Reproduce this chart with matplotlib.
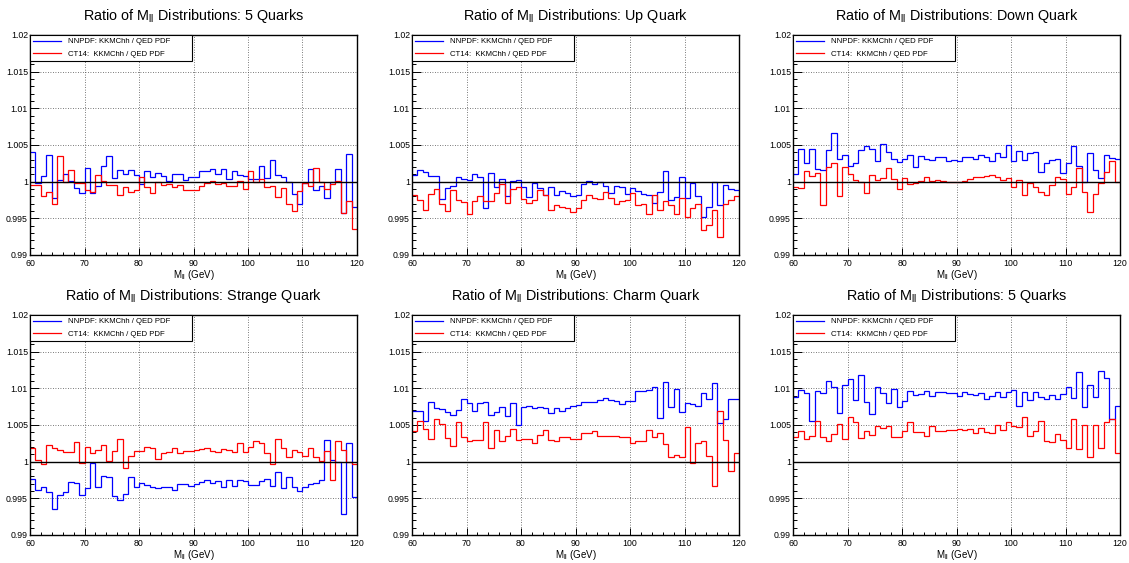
import numpy as np
import matplotlib
matplotlib.use("Agg")
from matplotlib import pyplot as plt
from matplotlib.ticker import MultipleLocator, FuncFormatter

plt.rcParams['font.family'] = ['Liberation Sans', 'DejaVu Sans']
plt.rcParams['mathtext.fontset'] = 'custom'
plt.rcParams['mathtext.rm'] = 'Liberation Sans'

# 1 GeV bins from 60 to 120 GeV
mass_edges = np.linspace(60, 120, 61)

titles = ["5 Quarks", "Up Quark", "Down Quark",
          "Strange Quark", "Charm Quark", "5 Quarks"]
legend_labels = ["NNPDF: KKMChh / QED PDF", "CT14:  KKMChh / QED PDF"]

# ratio deviations from 1, in units of 1e-3, read bin by bin
nnpdf_5q_a = [4.05, -0.2, 0.8, 3.6, -2.2, 0.27, 1.1, 0.1, -0.85, -1.5,
              1.9, -1.5, -0.6, 2.2, 3.5, 0.45, 1.6, 1.0, 1.6, 0.9,
              -0.3, 1.4, 0.7, 1.25, 0.8, 0.1, 1.0, 1.0, 0.2, 0.6,
              0.6, 1.4, 1.4, 1.7, 1.1, 1.7, 0.3, 1.5, 0.95, 0.8,
              0.3, 0.3, 2.2, 0.45, 3.0, 0.9, 0.7, -0.1, -1.65, -3.1,
              -0.2, 1.7, -1.2, -0.55, -2.2, 0.0, 1.7, -4.3, 3.8, -3.5]
ct14_5q_a = [-0.4, -0.5, -2.0, -1.35, -3.1, 3.5, -0.1, 1.6, -0.2, -0.2,
             -1.1, -1.35, 0.9, 0.15, -0.5, -0.5, -1.8, -0.75, -1.45, -1.2,
             0.7, -0.75, -1.5, 0.0, -0.4, -0.3, -0.75, -0.5, -1.1, -1.2,
             -1.2, -0.55, -0.2, 0.15, -0.3, -0.2, -0.55, -0.55, 0.15, -1.0,
             1.5, -0.1, 0.35, -0.75, -0.55, -2.1, -0.85, -3.0, -4.0, -1.3,
             -0.2, -0.55, 1.8, 0.0, -1.0, -0.3, 0.15, -4.3, -2.6, -6.5]

nnpdf_up = [0.9, 1.6, 1.35, 0.8, 0.8, -2.4, -0.85, -0.6, 0.7, 0.35,
            0.2, 1.1, 0.7, -3.55, 1.25, -0.75, 0.35, -1.9, 0.05, 0.25,
            -0.75, -2.1, -0.2, -0.85, -1.75, -0.7, -1.8, -1.3, -1.5, -1.9,
            -1.75, -0.3, 0.15, -0.3, -0.1, -0.55, -1.6, -0.55, -0.75, -1.65,
            -0.9, -1.3, -1.65, -1.75, -2.9, -1.35, 1.5, -2.55, -2.1, 0.6,
            -2.25, -0.2, -2.0, -4.8, -3.45, -0.1, -3.25, -0.45, -1.0, -1.1]
ct14_up = [-1.75, -2.5, -3.8, -1.65, -1.0, -3.0, -4.05, -1.1, -2.5, -2.8,
           -4.4, -2.6, -2.0, -2.6, -2.6, -1.6, -0.3, -2.9, -1.0, -0.75,
           -2.35, -2.9, -2.5, -1.2, -1.75, -3.9, -3.25, -3.4, -3.6, -4.15,
           -3.6, -2.5, -1.75, -2.25, -2.35, -1.35, -2.25, -3.0, -2.7, -2.55,
           -1.6, -3.15, -3.0, -4.4, -1.8, -3.9, -2.7, -3.25, -4.4, -2.25,
           -4.8, -3.55, -3.0, -6.6, -5.95, -3.9, -7.5, -3.0, -2.5, -1.9]

nnpdf_down = [1.1, 4.5, 2.6, 4.5, 1.7, 1.6, 4.3, 6.7, 3.05, 3.6,
              2.15, 2.5, 4.3, 4.8, 4.5, 2.85, 5.1, 4.0, 3.05, 2.7,
              3.05, 3.6, 1.95, 3.5, 3.15, 3.0, 3.3, 3.4, 2.85, 2.9,
              2.85, 3.3, 3.3, 3.15, 3.65, 3.3, 2.85, 3.95, 3.3, 4.95,
              2.75, 4.2, 3.0, 3.85, 4.05, 1.35, 2.6, 3.0, 3.05, 1.25,
              2.6, 4.8, 2.15, 0.0, 3.85, 1.6, 0.45, 3.65, 3.2, 3.05]
ct14_down = [-0.75, -0.9, 1.5, 0.8, 1.25, -3.25, 2.0, 2.6, -2.0, 1.95,
             1.05, 0.25, -0.1, -1.5, 0.9, 0.25, 0.5, 1.8, 0.35, -1.0,
             0.45, -0.3, -0.2, 0.15, 0.7, 0.15, 0.2, 0.05, 0.0, 0.0,
             -0.1, 0.15, 0.35, 0.6, 0.6, 0.8, 0.95, 0.7, 0.2, 0.45,
             -0.7, 0.2, -1.8, -0.2, -0.75, -1.35, -1.8, -0.45, 0.6, 0.35,
             -1.65, -0.75, 1.8, -1.35, -4.15, -1.65, -0.2, 1.35, 2.85, 0.0]

nnpdf_strange = [-2.4, -3.9, -3.5, -4.15, -6.45, -4.6, -4.2, -2.8, -2.9, -4.6,
                 -3.6, -0.15, -3.5, -2.0, -2.15, -4.7, -5.2, -4.4, -2.15, -3.5,
                 -2.85, -3.25, -3.45, -3.6, -3.45, -3.45, -3.9, -3.0, -3.05, -3.3,
                 -3.0, -2.8, -2.55, -2.85, -2.7, -3.45, -2.55, -3.3, -2.5, -2.6,
                 -3.25, -3.15, -2.7, -2.4, -3.3, -1.35, -3.6, -2.15, -3.4, -4.05,
                 -3.5, -3.0, -2.85, -2.5, 2.95, 0.2, 0.0, -7.1, 2.55, -4.85]
ct14_strange = [1.8, 0.2, -0.35, 2.25, 1.8, 1.6, 1.35, 1.35, 2.7, -0.2,
                2.0, 1.2, 1.6, 2.25, 0.15, 1.45, 3.05, -0.9, 0.8, 1.45,
                1.5, 1.95, 1.8, 0.35, 1.2, 1.35, 1.9, 1.2, 1.45, 1.45,
                1.65, 1.7, 1.8, 1.5, 1.35, 1.7, 1.6, 1.35, 2.55, 1.35,
                2.0, 2.8, 2.5, 1.2, -0.35, 3.15, 1.8, 0.7, 1.6, 1.35,
                0.8, 1.8, 0.7, 0.1, 1.5, -2.5, 2.8, 1.6, 0.0, -0.35]

nnpdf_charm = [6.85, 6.85, 5.5, 8.2, 7.3, 7.2, 6.75, 6.3, 7.0, 8.55,
               8.0, 6.9, 8.0, 8.1, 6.4, 6.75, 7.45, 6.2, 8.0, 4.95,
               7.5, 7.65, 7.35, 7.5, 7.3, 6.65, 7.3, 6.9, 7.3, 7.55,
               7.75, 8.1, 8.2, 8.1, 8.35, 8.65, 8.4, 8.25, 7.9, 8.25,
               8.25, 9.6, 9.7, 9.8, 10.2, 6.0, 10.8, 7.5, 9.9, 6.75,
               8.0, 7.8, 7.55, 9.3, 8.55, 10.7, 5.3, 5.85, 8.55, 8.55]
ct14_charm = [4.15, 5.6, 4.5, 3.15, 5.85, 5.1, 3.25, 2.15, 5.4, 3.4,
              2.8, 2.9, 3.0, 5.4, 1.9, 4.3, 2.85, 3.45, 4.4, 2.9,
              3.15, 3.15, 2.6, 3.7, 4.3, 3.0, 2.8, 3.4, 3.4, 3.05,
              3.05, 3.85, 3.95, 4.15, 3.45, 3.5, 3.5, 3.5, 3.3, 3.3,
              2.6, 2.85, 2.85, 4.3, 3.3, 3.85, 2.4, 0.6, 0.9, 0.7,
              4.75, -0.2, 2.5, 2.8, 0.8, -3.3, 6.9, 3.0, -1.25, 1.25]

nnpdf_5q_b = [8.85, 9.8, 9.3, 5.6, 9.6, 9.3, 11.05, 10.15, 6.7, 10.45,
              11.3, 8.4, 11.85, 8.1, 6.5, 10.15, 9.3, 7.95, 9.9, 7.5,
              8.3, 9.7, 9.1, 9.2, 9.7, 9.0, 9.45, 9.55, 9.3, 9.3,
              9.0, 9.55, 9.2, 9.15, 9.3, 8.55, 9.0, 9.55, 8.75, 9.55,
              9.75, 7.55, 9.55, 8.45, 9.45, 8.75, 8.55, 9.15, 8.55, 9.2,
              10.15, 8.65, 12.25, 7.4, 10.45, 8.75, 12.4, 11.35, 5.8, 7.65]
ct14_5q_b = [3.4, 4.2, 3.1, 3.55, 5.6, 3.4, 2.85, 3.75, 5.2, 3.1,
             6.15, 5.35, 3.2, 4.2, 3.65, 4.9, 4.55, 4.9, 3.3, 3.3,
             4.15, 5.45, 4.1, 4.1, 3.55, 4.9, 4.2, 4.2, 4.3, 4.3,
             4.45, 4.35, 4.45, 3.9, 4.6, 4.1, 3.9, 5.05, 4.35, 5.35,
             4.9, 4.75, 6.15, 3.55, 4.2, 5.6, 2.85, 2.65, 3.75, 2.95,
             1.8, 5.8, 1.7, 5.0, 0.6, 5.0, 1.8, 5.35, 5.8, 1.25]

panels = [(titles[0], nnpdf_5q_a, ct14_5q_a),
          (titles[1], nnpdf_up, ct14_up),
          (titles[2], nnpdf_down, ct14_down),
          (titles[3], nnpdf_strange, ct14_strange),
          (titles[4], nnpdf_charm, ct14_charm),
          (titles[5], nnpdf_5q_b, ct14_5q_b)]

W, H = 1129, 563
col_left = [30, 412, 793]
row_top = [35, 315]
pw, ph = 327, 220

fig = plt.figure(figsize=(W / 100, H / 100), dpi=100)

for k, (name, nn, ct) in enumerate(panels):
    row, col = divmod(k, 3)
    ax = fig.add_axes([col_left[col] / W, (H - row_top[row] - ph) / H, pw / W, ph / H])

    ax.stairs(1 + np.array(nn) * 1e-3, mass_edges, baseline=None,
              color='#0000ff', lw=0.9, label=legend_labels[0], zorder=2)
    ax.stairs(1 + np.array(ct) * 1e-3, mass_edges, baseline=None,
              color='#ff0000', lw=0.9, label=legend_labels[1], zorder=2)
    ax.axhline(1.0, color='black', lw=1.0, zorder=3)

    ax.set_xlim(60, 120)
    ax.set_ylim(0.99, 1.02)
    ax.xaxis.set_major_locator(MultipleLocator(10))
    ax.xaxis.set_minor_locator(MultipleLocator(2))
    ax.yaxis.set_major_locator(MultipleLocator(0.005))
    ax.yaxis.set_minor_locator(MultipleLocator(0.001))
    ax.yaxis.set_major_formatter(FuncFormatter(lambda v, p: '%g' % round(v, 4)))

    ax.tick_params(which='both', direction='in', top=False, right=False,
                   width=0.7, labelsize=6.3)
    ax.tick_params(axis='y', which='major', length=6.5, pad=1.5)
    ax.tick_params(axis='y', which='minor', length=3.2)
    ax.tick_params(axis='x', which='major', length=4.7, pad=3)
    ax.tick_params(axis='x', which='minor', length=2.4)
    for sp in ax.spines.values():
        sp.set_linewidth(1.0)

    ax.set_axisbelow(True)
    ax.grid(True, which='major', ls=(0, (1, 2)), color='0.3', lw=0.6)

    ax.set_title(f'Ratio of M$_\\mathregular{{ll}}$ Distributions: {name}',
                 fontsize=10.4, pad=11)
    ax.set_xlabel('M$_\\mathregular{ll}$ (GeV)', fontsize=7, labelpad=0)

    leg = ax.legend(loc='upper left', bbox_to_anchor=(0, 1, 0.495, 0),
                    mode='expand', borderaxespad=0, fontsize=5.6,
                    fancybox=False, edgecolor='black', framealpha=1,
                    handlelength=3.6, handletextpad=0.9, borderpad=0.36,
                    labelspacing=0.68)
    leg.get_frame().set_linewidth(0.8)
    leg.set_zorder(5)

fig.savefig('out.png', dpi=100)
